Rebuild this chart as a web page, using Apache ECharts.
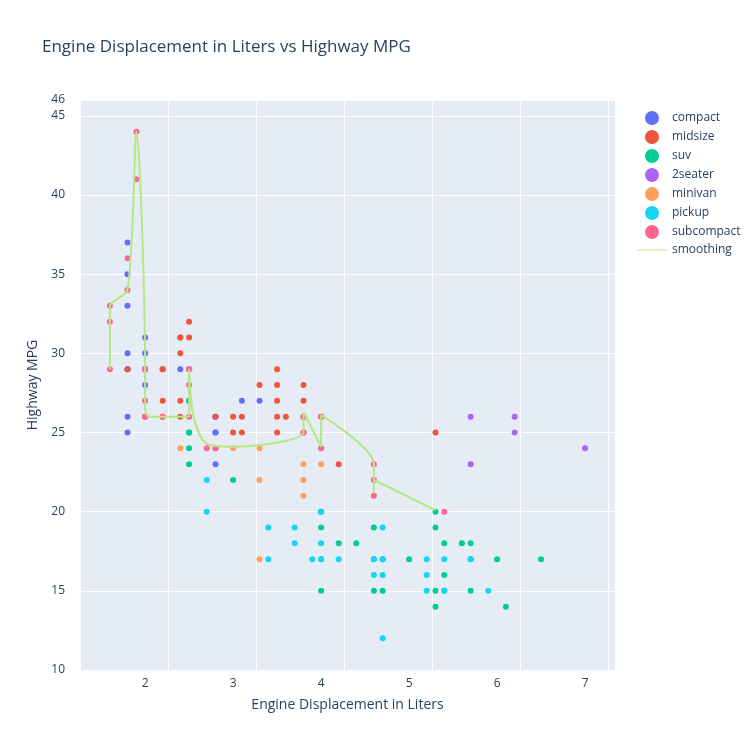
<!DOCTYPE html>
<html><head><meta charset="utf-8">
<script src="https://cdn.jsdelivr.net/npm/echarts@6/dist/echarts.min.js"></script>
<style>html,body{margin:0;padding:0;background:#fff}#c{width:750px;height:750px}</style>
</head><body><div id="c"></div>
<script>
const compact = [[1.8,29],[1.8,29],[2.0,31],[2.0,30],[2.8,26],[2.8,26],[3.1,27],[1.8,26],[1.8,25],[2.0,28],[2.0,29],[2.8,25],[2.8,25],[1.8,37],[1.8,35],[1.8,33],[1.8,30],[2.0,29],[2.4,29],[2.5,29],[2.5,27],[2.8,23],[3.3,27],[2.2,29]];
const midsize = [[2.4,31],[2.4,30],[2.4,27],[2.5,32],[2.5,31],[2.5,29],[2.8,26],[3.0,26],[3.1,26],[3.1,25],[3.3,28],[3.5,29],[3.5,28],[3.5,27],[3.5,26],[3.5,25],[3.6,26],[3.8,28],[3.8,27],[3.8,26],[3.8,25],[4.2,23],[5.3,25],[2.2,29],[2.2,27],[2.2,26],[2.0,26],[1.8,29],[3.0,25],[2.8,24],[4.0,26],[2.4,26],[2.4,31]];
const suv = [[2.5,27],[2.5,25],[2.5,24],[2.5,23],[2.5,25],[3.0,22],[4.0,20],[4.0,19],[4.0,17],[4.0,15],[4.2,18],[4.4,18],[4.6,19],[4.6,17],[4.6,15],[4.7,17],[4.7,15],[5.0,17],[5.3,20],[5.3,19],[5.3,15],[5.3,14],[5.4,18],[5.4,16],[5.4,15],[5.6,18],[5.7,18],[5.7,17],[5.7,15],[6.0,17],[6.1,14],[6.5,17]];
const twoSeater = [[5.7,26],[5.7,23],[6.2,26],[6.2,25],[7.0,24]];
const minivan = [[2.4,24],[3.0,24],[3.3,24],[3.3,22],[3.3,17],[3.8,23],[3.8,22],[3.8,21],[4.0,23]];
const pickup = [[2.7,22],[2.7,20],[3.4,19],[3.4,17],[3.7,19],[3.7,18],[3.9,17],[4.0,20],[4.0,18],[4.0,17],[4.2,17],[4.6,17],[4.6,16],[4.7,19],[4.7,17],[4.7,16],[4.7,12],[5.2,17],[5.2,16],[5.2,15],[5.4,17],[5.4,15],[5.7,17],[5.9,15],[4.0,20]];
const subcompact = [[1.6,33],[1.6,32],[1.6,29],[1.8,36],[1.8,34],[1.9,44],[1.9,41],[2.0,29],[2.0,27],[2.0,26],[2.2,26],[2.5,29],[2.5,28],[2.5,26],[2.7,24],[2.8,24],[3.8,26],[3.8,25],[4.0,26],[4.0,24],[4.6,23],[4.6,22],[4.6,21],[5.4,20]];
const smoothing = [[1.6,29],[1.6,31.5],[1.6,33],[1.8,34],[1.9,44],[2.0,29],[2.0,26.5],[2.05,26],[2.5,26],[2.5,29],[2.55,26],[2.7,24.3],[3.0,24.1],[3.8,25],[3.8,26.3],[4.0,24.1],[4.0,26.1],[4.6,23],[4.6,21.2],[4.6,22],[5.3,20.1]];

const groups = [
  ["compact", compact, "#636efa"],
  ["midsize", midsize, "#EF553B"],
  ["suv", suv, "#00cc96"],
  ["2seater", twoSeater, "#ab63fa"],
  ["minivan", minivan, "#FFA15A"],
  ["pickup", pickup, "#19d3f3"],
  ["subcompact", subcompact, "#FF6692"],
];

const chart = echarts.init(document.getElementById("c"));
const axisCommon = {
  axisLine: { show: false }, axisTick: { show: false },
  splitLine: { lineStyle: { color: "#fff", width: 1 } },
  axisLabel: { color: "#2a3f5f", fontSize: 12 },
  nameTextStyle: { color: "#2a3f5f", fontSize: 14 },
};
chart.setOption({
  textStyle: { fontFamily: "Open Sans, Arial, sans-serif" },
  title: { text: "Engine Displacement in Liters vs Highway MPG", left: 37, top: 34,
    textStyle: { color: "#2a3f5f", fontSize: 17, fontWeight: "normal" } },
  grid: { left: 80, right: 135, top: 100, bottom: 80, show: true, backgroundColor: "#E5ECF6", borderWidth: 0 },
  legend: {
    orient: "vertical", left: 632, top: 106, itemGap: 5, itemWidth: 30, itemHeight: 14,
    textStyle: { color: "#2a3f5f", fontSize: 12 },
    data: groups.map(g => ({ name: g[0], icon: "path://M10,4 a3,3 0 1,0 0.01,0 Z" })).concat([{ name: "smoothing", icon: "path://M0,6.5 L30,6.5 L30,7.5 L0,7.5 Z" }]),
  },
  xAxis: { ...axisCommon, type: "value", min: 1.26, max: 7.34, interval: 1,
    axisLabel: { ...axisCommon.axisLabel, customValues: [2,3,4,5,6,7] },
    name: "Engine Displacement in Liters", nameLocation: "middle", nameGap: 28 },
  yAxis: { ...axisCommon, type: "value", min: 10, max: 46, interval: 5,
    axisLabel: { ...axisCommon.axisLabel, margin: 15 },
    splitLine: { lineStyle: { color: "#fff" } },
    name: "Highway MPG", nameLocation: "middle", nameGap: 38 },
  series: groups.map(g => ({
    name: g[0], type: "scatter", data: g[1], symbolSize: 6,
    itemStyle: { color: g[2], opacity: 1 },
  })).concat([{
    name: "smoothing", type: "line", data: smoothing, smooth: 0.3, showSymbol: false,
    itemStyle: { color: "#b6e880" }, lineStyle: { color: "#b6e880", width: 2 }, z: 3,
  }]),
});
</script></body></html>
